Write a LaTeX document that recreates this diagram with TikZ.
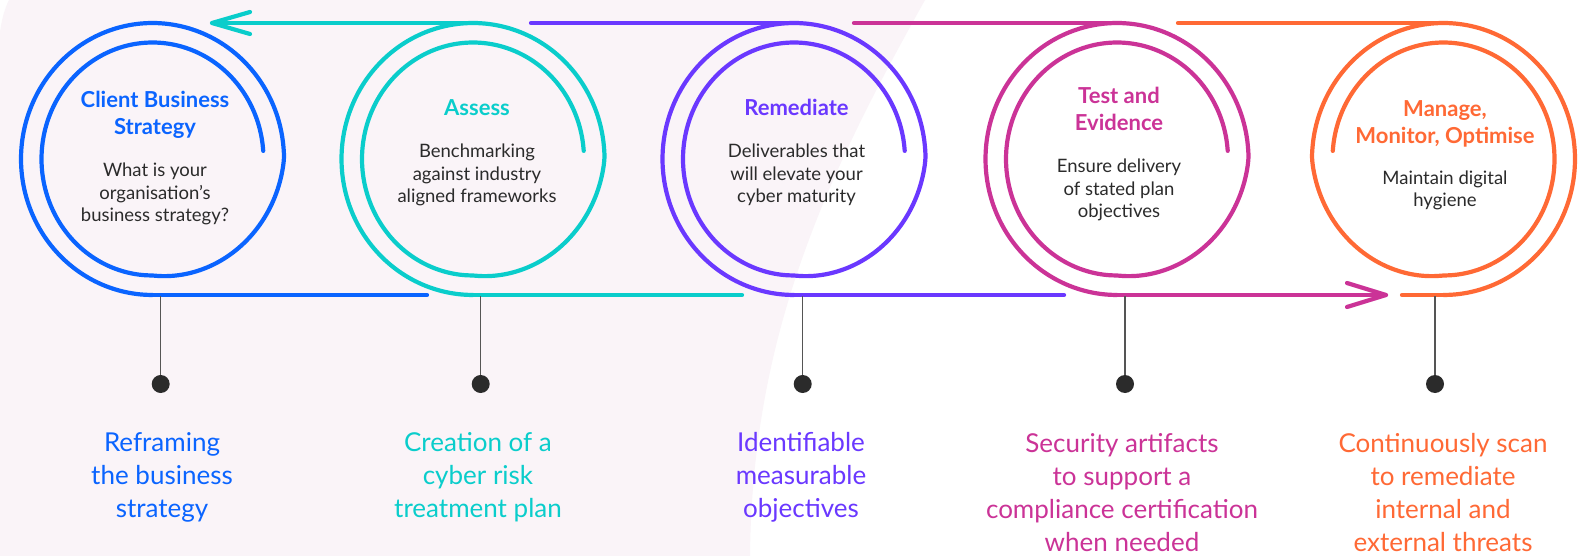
\documentclass[tikz,border=0pt]{standalone}
\usepackage{fontspec}
\setmainfont{Lato}
\definecolor{cblue}{HTML}{0A64FF}
\definecolor{ccyan}{HTML}{0ACDCB}
\definecolor{cpurple}{HTML}{6A38FF}
\definecolor{cmagenta}{HTML}{CB3397}
\definecolor{corange}{HTML}{FF6935}
\definecolor{ink}{HTML}{2B2B2B}
\definecolor{tickgray}{HTML}{555555}
\definecolor{pinkbg}{HTML}{FAF4F8}

% spiral ring: outer loop from the bottom point, closing into the inner loop
% #1 colour, #2 centre x, #3 = +1 (clockwise) or -1 (mirrored)
\newcommand{\spiralring}[3]{%
  \draw[ring,#1] plot[domain=90:716, samples=180, smooth, variable=\ang]
    ({#2 + #3*(131.5-20.5*min(max((\ang-360)/90,0),1))*cos(\ang)},
     {159 + (136-19.5*min(max((\ang-360)/90,0),1))*sin(\ang)});%
}

\begin{document}
\begin{tikzpicture}[x=1pt,y=-1pt,
  ring/.style={line width=4.2pt, line cap=round, line join=round},
  tickline/.style={line width=1.2pt, draw=tickgray},
  dotmark/.style={fill=ink},
  % multi-line nodes sit on the baseline of their last line
  title/.style={font=\fontsize{22}{27}\selectfont\bfseries, align=center, anchor=base, inner sep=0pt},
  body/.style={font=\fontsize{18.5}{22.5}\selectfont, text=ink, align=center, anchor=base, inner sep=0pt},
  caption/.style={font=\fontsize{26}{33}\selectfont, align=center, anchor=base, inner sep=0pt},
]
% canvas and soft pink backdrop
\fill[white] (0,0) rectangle (1591,556);
\useasboundingbox (0,0) rectangle (1591,556);
\fill[pinkbg] (9,0) -- (925,0) .. controls (830,170) and (752,330) .. (750,556)
  -- (0,556) -- (0,32) .. controls (2,18) and (5,8) .. (9,0) -- cycle;

% spiral rings
\spiralring{cblue}{152.5}{1}
\spiralring{ccyan}{473}{1}
\spiralring{cpurple}{794}{1}
\spiralring{cmagenta}{1117}{1}
\spiralring{corange}{1443.5}{-1}

% top connectors
\coordinate (top2) at (473,23);   \coordinate (arrA) at (212,23);
\coordinate (top3) at (794,23);   \coordinate (top3s) at (531,23);
\coordinate (top4) at (1117,23);  \coordinate (top4s) at (854,23);
\coordinate (top5) at (1443.5,23);\coordinate (top5s) at (1178,23);
\draw[ring,ccyan] (top2) -- (arrA);
\draw[ring,ccyan] (250,12) -- (arrA) -- (250,34);
\draw[ring,cpurple] (top3s) -- (top3);
\draw[ring,cmagenta] (top4s) -- (top4);
\draw[ring,corange] (top5s) -- (top5);

% bottom connectors
\coordinate (bot1) at (152.5,295); \coordinate (bot1e) at (427,295);
\coordinate (bot2) at (473,295);   \coordinate (bot2e) at (742,295);
\coordinate (bot3) at (794,295);   \coordinate (bot3e) at (1064,295);
\coordinate (bot4) at (1117,295);  \coordinate (arrB) at (1386,295);
\coordinate (bot5) at (1443.5,295);\coordinate (bot5s) at (1402,295);
\draw[ring,cblue] (bot1) -- (bot1e);
\draw[ring,ccyan] (bot2) -- (bot2e);
\draw[ring,cpurple] (bot3) -- (bot3e);
\draw[ring,cmagenta] (bot4) -- (arrB);
\draw[ring,cmagenta] (1347,283) -- (arrB) -- (1347,307);
\draw[ring,corange] (bot5s) -- (bot5);

% pins below each stage
\foreach \px/\nm in {160.7/p1, 480.7/p2, 802.7/p3, 1125/p4, 1435/p5}{
  \coordinate (\nm top) at (\px,296);
  \coordinate (\nm) at (\px,384);
  \draw[tickline] (\nm top) -- (\nm);
  \fill[dotmark] (\nm) circle (9);
}

% stage titles and descriptions
\node[title,text=cblue] (t1) at (155,135) {Client Business\\Strategy};
\node[body] (d1) at (155,222) {What is your\\organisation’s\\business strategy?};
\node[title,text=ccyan] (t2) at (477,116) {Assess};
\node[body] (d2) at (477,203) {Benchmarking\\against industry\\aligned frameworks};
\node[title,text=cpurple] (t3) at (796.5,116) {Remediate};
\node[body] (d3) at (796.5,203) {Deliverables that\\will elevate your\\cyber maturity};
\node[title,text=cmagenta] (t4) at (1119,131) {Test and\\Evidence};
\node[body] (d4) at (1119,218) {Ensure delivery\\of stated plan\\objectives};
\node[title,text=corange] (t5) at (1445,144) {Manage,\\Monitor, Optimise};
\node[body] (d5) at (1445,207) {Maintain digital\\hygiene};

% outcomes
\node[caption,text=cblue] (c1) at (162,517.7) {Reframing\\the business\\strategy};
\node[caption,text=ccyan] (c2) at (478,517.7) {Creation of a\\cyber risk\\treatment plan};
\node[caption,text=cpurple] (c3) at (801,517.7) {Identifiable\\measurable\\objectives};
\node[caption,text=cmagenta] (c4) at (1122,551) {Security artifacts\\to support a\\compliance certification\\when needed};
\node[caption,text=corange] (c5) at (1443,551) {Continuously scan\\to remediate\\internal and\\external threats};
\end{tikzpicture}
\end{document}
